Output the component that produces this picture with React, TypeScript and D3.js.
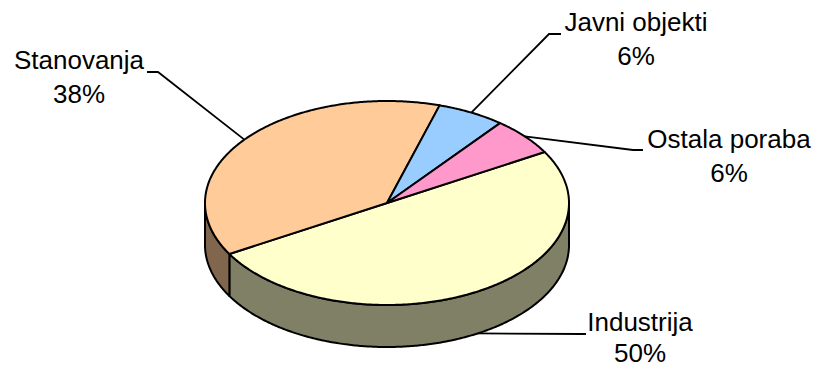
import React from "react";
import * as d3 from "d3";

const categories = ["Industrija", "Stanovanja", "Javni objekti", "Ostala poraba"];
const values = [50, 38, 6, 6];
const percentLabels = ["50%", "38%", "6%", "6%"];

const topColors = ["#FFFFCC", "#FFCC99", "#99CCFF", "#FF99CC"];

// layout (not data)
const W = 818, H = 368;
const CX = 387, CY = 203, RX = 182, RY = 102, DEPTH = 42;
const START = (60 * Math.PI) / 180;
const labelLayout: Record<string, { x: number; y1: number; y2: number; elbow: [number, number]; end: [number, number]; onBottom: boolean }> = {
  "Industrija": { x: 640, y1: 331, y2: 362, elbow: [582, 334], end: [586, 334], onBottom: true },
  "Stanovanja": { x: 79, y1: 69, y2: 103, elbow: [158, 72], end: [147, 72], onBottom: false },
  "Javni objekti": { x: 636, y1: 31, y2: 65, elbow: [549, 34], end: [561, 34], onBottom: false },
  "Ostala poraba": { x: 729, y1: 148, y2: 182, elbow: [633, 150], end: [643, 150], onBottom: false },
};

const ptTop = (a: number): [number, number] => [CX + RX * Math.sin(a), CY - RY * Math.cos(a)];
const ptBot = (a: number): [number, number] => [CX + RX * Math.sin(a), CY - RY * Math.cos(a) + DEPTH];

function arcPts(a0: number, a1: number, f: (a: number) => [number, number]) {
  const n = Math.max(2, Math.ceil(Math.abs(a1 - a0) / 0.01));
  return d3.range(n + 1).map((i) => f(a0 + ((a1 - a0) * i) / n));
}

function darker(c: string) {
  const r = d3.rgb(c);
  return d3.rgb(r.r * 0.5, r.g * 0.5, r.b * 0.5).formatHex();
}

export default function App() {
  const pie = d3.pie<number>().sort(null).startAngle(START).endAngle(START + 2 * Math.PI);
  const arcs = pie(values);
  const line = d3.line();

  const walls: { d: string; fill: string }[] = [];
  const fronts = [
    [Math.PI / 2, (3 * Math.PI) / 2],
    [Math.PI / 2 + 2 * Math.PI, (3 * Math.PI) / 2 + 2 * Math.PI],
  ];
  arcs.forEach((a, i) => {
    fronts.forEach(([f0, f1]) => {
      const s = Math.max(a.startAngle, f0);
      const e = Math.min(a.endAngle, f1);
      if (e > s) {
        const pts = [...arcPts(s, e, ptTop), ...arcPts(e, s, ptBot)];
        walls.push({ d: line(pts as [number, number][])! + "Z", fill: darker(topColors[i]) });
      }
    });
  });

  const tops = arcs.map((a, i) => {
    const pts = [[CX, CY] as [number, number], ...arcPts(a.startAngle, a.endAngle, ptTop)];
    return { d: line(pts)! + "Z", fill: topColors[i] };
  });

  const leaders = arcs.map((a, i) => {
    const mid = (a.startAngle + a.endAngle) / 2;
    const L = labelLayout[categories[i]];
    const p = L.onBottom ? ptBot(mid) : ptTop(mid);
    return line([p, L.elbow, L.end])!;
  });

  return (
    <svg width={W} height={H} style={{ position: "absolute", left: 0, top: 0, background: "#fff" }}>
      {walls.map((w, i) => (
        <path key={"w" + i} d={w.d} fill={w.fill} stroke="#000" strokeWidth={2} strokeLinejoin="round" />
      ))}
      {tops.map((t, i) => (
        <path key={"t" + i} d={t.d} fill={t.fill} stroke="#000" strokeWidth={2} strokeLinejoin="round" />
      ))}
      {leaders.map((d, i) => (
        <path key={"l" + i} d={d} fill="none" stroke="#000" strokeWidth={1.8} />
      ))}
      {categories.map((c, i) => {
        const L = labelLayout[c];
        return (
          <g key={"lab" + i} fontFamily="'Liberation Sans', Arial, sans-serif" fontSize={26} textAnchor="middle" fill="#000">
            <text x={L.x} y={L.y1}>{c}</text>
            <text x={L.x} y={L.y2}>{percentLabels[i]}</text>
          </g>
        );
      })}
    </svg>
  );
}
